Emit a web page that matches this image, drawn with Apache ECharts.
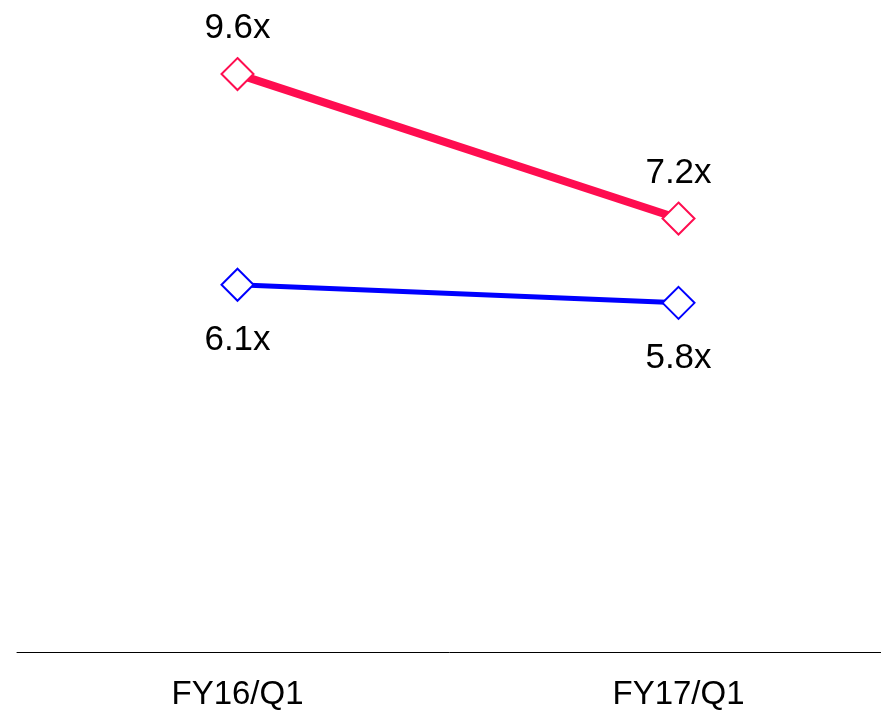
<!DOCTYPE html>
<html>
<head>
<meta charset="utf-8">
<script src="https://cdn.jsdelivr.net/npm/echarts@6/dist/echarts.min.js"></script>
<style>
  html, body { margin: 0; padding: 0; background: #fff; }
  #chart { width: 881px; height: 712px; }
</style>
</head>
<body>
<div id="chart"></div>
<script>
// categories and values
const categories = ["FY16/Q1", "FY17/Q1"];
const redValues = [9.6, 7.2];
const blueValues = [6.1, 5.8];

const chart = echarts.init(document.getElementById("chart"));
const font = "Liberation Sans, Arial, sans-serif";
const valueLabel = { fontFamily: font, fontSize: 35, color: "#000" };

chart.setOption({
  animation: false,
  // the category bands run a little past the right edge of the canvas
  grid: { left: 17, top: 50, right: -18, bottom: 60, outerBoundsMode: "none" },
  xAxis: {
    type: "category",
    data: categories,
    boundaryGap: true,
    axisLine: { lineStyle: { color: "#000", width: 1 } },
    axisTick: { show: false },
    axisLabel: { margin: 26, fontFamily: font, fontSize: 33, color: "#000" }
  },
  yAxis: {
    type: "value",
    min: 0,
    max: 10,
    show: false
  },
  series: [
    {
      name: "red",
      type: "line",
      data: redValues,
      symbol: "diamond",
      symbolSize: 32,
      lineStyle: { color: "#ff0d50", width: 8 },
      itemStyle: { color: "#fff", borderColor: "#ff0d50", borderWidth: 2 },
      label: Object.assign({
        show: true,
        position: "top",
        distance: 11,
        formatter: p => p.value.toFixed(1) + "x"
      }, valueLabel),
      z: 3
    },
    {
      name: "blue",
      type: "line",
      data: blueValues,
      symbol: "diamond",
      symbolSize: 32,
      lineStyle: { color: "#0000ff", width: 5 },
      itemStyle: { color: "#fff", borderColor: "#0000ff", borderWidth: 2 },
      label: Object.assign({
        show: true,
        position: "bottom",
        distance: 21,
        formatter: p => p.value.toFixed(1) + "x"
      }, valueLabel),
      z: 3
    }
  ]
});
</script>
</body>
</html>
